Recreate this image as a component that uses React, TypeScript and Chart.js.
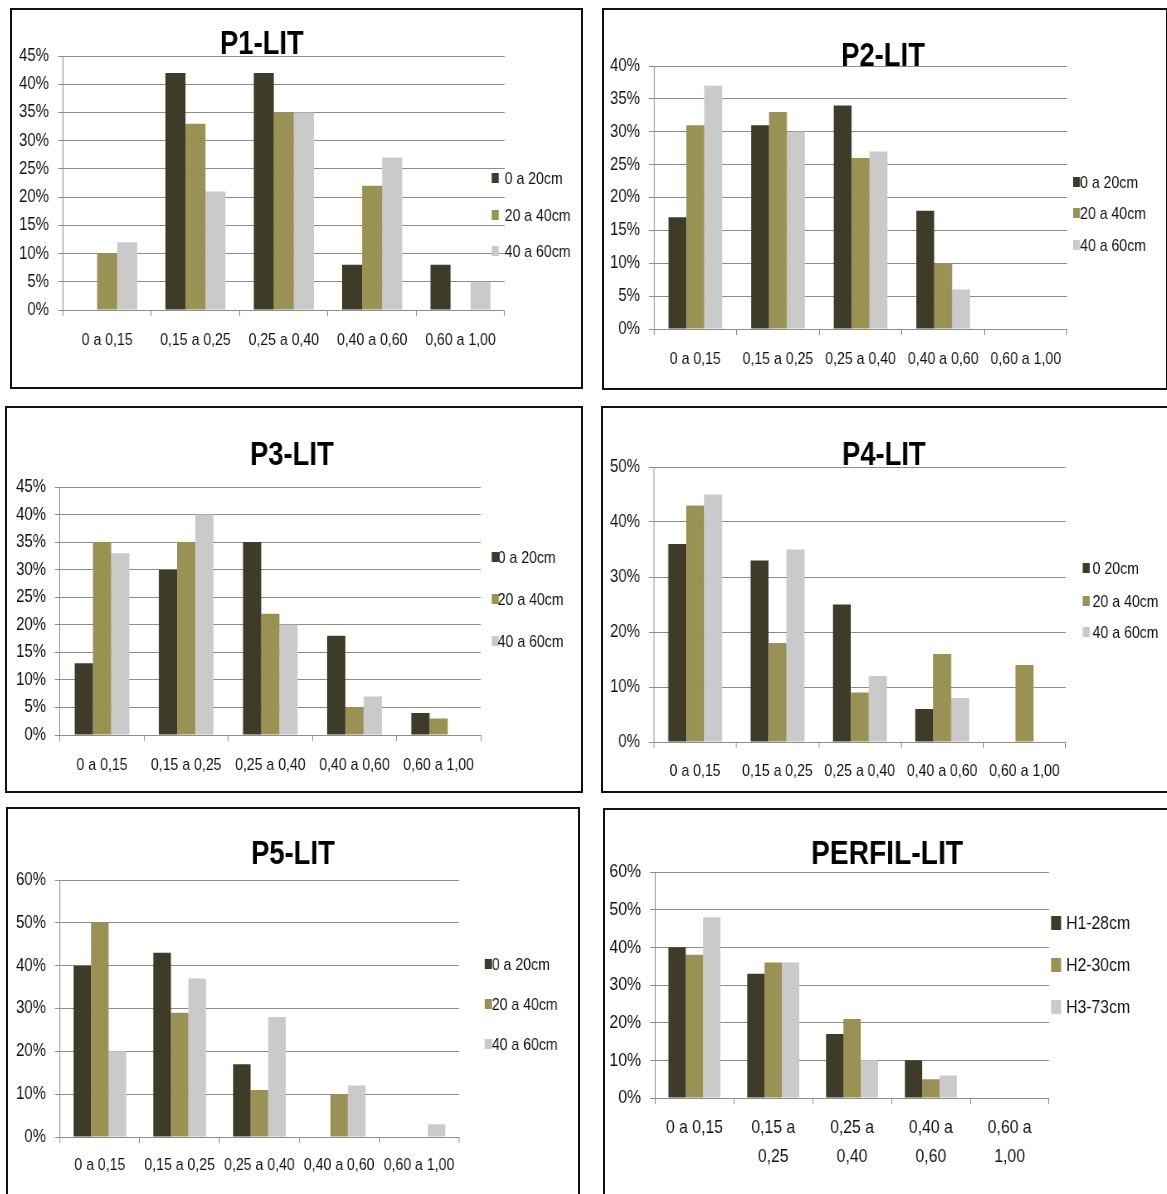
import { useEffect, useRef } from "react";
import { Chart, registerables } from "chart.js";

Chart.register(...registerables);

// ---------- DATA ----------
const categories = ["0 a 0,15", "0,15 a 0,25", "0,25 a 0,40", "0,40 a 0,60", "0,60 a 1,00"];
const perfilCategories = [["0 a 0,15"], ["0,15 a", "0,25"], ["0,25 a", "0,40"], ["0,40 a", "0,60"], ["0,60 a", "1,00"]];

const depthLabels = ["0 a 20cm", "20 a 40cm", "40 a 60cm"];
const p4DepthLabels = ["0 20cm", "20 a 40cm", "40 a 60cm"];
const perfilLabels = ["H1-28cm", "H2-30cm", "H3-73cm"];

const p1_0a20 = [0, 42, 42, 8, 8];
const p1_20a40 = [10, 33, 35, 22, 0];
const p1_40a60 = [12, 21, 35, 27, 5];

const p2_0a20 = [17, 31, 34, 18, 0];
const p2_20a40 = [31, 33, 26, 10, 0];
const p2_40a60 = [37, 30, 27, 6, 0];

const p3_0a20 = [13, 30, 35, 18, 4];
const p3_20a40 = [35, 35, 22, 5, 3];
const p3_40a60 = [33, 40, 20, 7, 0];

const p4_0a20 = [36, 33, 25, 6, 0];
const p4_20a40 = [43, 18, 9, 16, 14];
const p4_40a60 = [45, 35, 12, 8, 0];

const p5_0a20 = [40, 43, 17, 0, 0];
const p5_20a40 = [50, 29, 11, 10, 0];
const p5_40a60 = [20, 37, 28, 12, 3];

const perfilH1 = [40, 33, 17, 10, 0];
const perfilH2 = [38, 36, 21, 5, 0];
const perfilH3 = [48, 36, 10, 6, 0];

const titles = ["P1-LIT", "P2-LIT", "P3-LIT", "P4-LIT", "P5-LIT", "PERFIL-LIT"];
const yMax = [45, 40, 45, 50, 60, 60];
const yStep = [5, 5, 5, 10, 10, 10];

// ---------- STYLE ----------
const COLORS = ["#3e3c28", "#9a9254", "#cacaca"];
const FONT = "'Liberation Sans', Arial, sans-serif";
const GRID = "#8c8c8c";
const TEXT = "#111";
const SX = 0.83; // horizontal condensing of the drawing (narrow-font look)

type Panel = {
  box: { x: number; y: number; w: number; h: number };
  plot: { left: number; right: number; top: number; bottom: number };
  labelCenter: number;
  title: { x: number; y: number };
  legend: { sqX: number; textX: number; ys: number[] };
  fontSize: number;
  yFontSize: number;
  legendSize: number;
  catPct: number;
};

const panels: Panel[] = [
  { box: { x: 10, y: 8, w: 573, h: 381 }, plot: { left: 51, right: 493, top: 46, bottom: 300 }, labelCenter: 330, title: { x: 250, y: 35 }, legend: { sqX: 480, textX: 493, ys: [168, 205, 241] }, fontSize: 17, yFontSize: 18, legendSize: 17, catPct: 0.68 },
  { box: { x: 602, y: 8, w: 566, h: 382 }, plot: { left: 50, right: 463, top: 56, bottom: 319 }, labelCenter: 349, title: { x: 279, y: 47 }, legend: { sqX: 469, textX: 476, ys: [172, 203, 235] }, fontSize: 17, yFontSize: 18, legendSize: 17, catPct: 0.65 },
  { box: { x: 5, y: 406, w: 578, h: 387 }, plot: { left: 53, right: 474, top: 79, bottom: 327 }, labelCenter: 357, title: { x: 285, y: 48 }, legend: { sqX: 485, textX: 491, ys: [149, 191, 233] }, fontSize: 17, yFontSize: 18, legendSize: 17, catPct: 0.65 },
  { box: { x: 601, y: 406, w: 568, h: 387 }, plot: { left: 51, right: 463, top: 59, bottom: 334 }, labelCenter: 363, title: { x: 281, y: 48 }, legend: { sqX: 480, textX: 490, ys: [160, 193, 224] }, fontSize: 17, yFontSize: 18, legendSize: 17, catPct: 0.655 },
  { box: { x: 6, y: 807, w: 574, h: 400 }, plot: { left: 52, right: 451, top: 71, bottom: 328 }, labelCenter: 356, title: { x: 285, y: 46 }, legend: { sqX: 477, textX: 484, ys: [155, 195, 235] }, fontSize: 17, yFontSize: 18, legendSize: 17, catPct: 0.66 },
  { box: { x: 603, y: 808, w: 566, h: 400 }, plot: { left: 50, right: 444, top: 62, bottom: 288 }, labelCenter: 332, title: { x: 282, y: 45 }, legend: { sqX: 446, textX: 461, ys: [113, 155, 197] }, fontSize: 19, yFontSize: 19, legendSize: 19, catPct: 0.66 },
];

const seriesSets = [
  [p1_0a20, p1_20a40, p1_40a60],
  [p2_0a20, p2_20a40, p2_40a60],
  [p3_0a20, p3_20a40, p3_40a60],
  [p4_0a20, p4_20a40, p4_40a60],
  [p5_0a20, p5_20a40, p5_40a60],
  [perfilH1, perfilH2, perfilH3],
];
const legendSets = [depthLabels, depthLabels, depthLabels, p4DepthLabels, depthLabels, perfilLabels];

const TICK_LEN = 6;

function ChartPanel({ idx }: { idx: number }) {
  const ref = useRef<HTMLCanvasElement | null>(null);
  const p = panels[idx];
  const W = p.box.w - 4;
  const H = p.box.h - 4;
  const Wc = Math.round(W / SX);
  const isPerfil = idx === 5;

  useEffect(() => {
    if (!ref.current) return;
    const labels = isPerfil ? perfilCategories : categories;
    const lineH = isPerfil ? 29 : Math.round(p.fontSize * 1.2);
    const nLines = isPerfil ? 2 : 1;
    const xH = 70;
    const xPad = p.labelCenter - p.plot.bottom - TICK_LEN - (lineH * nLines) / 2;
    const cx = (v: number) => v / SX;

    const decor = {
      id: "panelDecor",
      afterDraw(chart: any) {
        const ctx = chart.ctx;
        ctx.save();
        ctx.fillStyle = "#000";
        ctx.font = `bold ${isPerfil ? 34 : 33}px ${FONT}`;
        ctx.textAlign = "center";
        ctx.textBaseline = "middle";
        ctx.fillText(titles[idx], cx(p.title.x), p.title.y);
        ctx.font = `${p.legendSize}px ${FONT}`;
        ctx.textAlign = "left";
        chart.data.datasets.forEach((ds: any, i: number) => {
          const y = p.legend.ys[i];
          ctx.fillStyle = ds.backgroundColor;
          const sw = isPerfil ? 10 : 7;
          const sh = isPerfil ? 14 : 10;
          ctx.fillRect(cx(p.legend.sqX), y - sh / 2, cx(sw), sh);
          ctx.fillStyle = TEXT;
          ctx.fillText(ds.label, cx(p.legend.textX), y + 1);
        });
        ctx.restore();
      },
    };

    const chart = new Chart(ref.current, {
      type: "bar",
      data: {
        labels: labels as any,
        datasets: seriesSets[idx].map((vals, i) => ({
          label: legendSets[idx][i],
          data: vals,
          backgroundColor: COLORS[i],
          borderWidth: 0,
          categoryPercentage: p.catPct,
          barPercentage: 1.0,
        })),
      },
      options: {
        responsive: false,
        animation: false,
        devicePixelRatio: 1,
        layout: {
          padding: {
            left: 0,
            top: p.plot.top,
            right: Wc - cx(p.plot.right),
            bottom: H - p.plot.bottom - xH,
          },
        },
        plugins: {
          legend: { display: false },
          title: { display: false },
          tooltip: { enabled: false },
        },
        scales: {
          x: {
            afterFit: (s: any) => {
              s.height = xH;
            },
            grid: {
              offset: true,
              drawOnChartArea: false,
              drawTicks: true,
              tickLength: TICK_LEN,
              color: GRID,
            },
            border: { display: true, color: GRID },
            ticks: {
              autoSkip: false,
              maxRotation: 0,
              minRotation: 0,
              padding: xPad,
              color: TEXT,
              font: { family: FONT, size: p.fontSize, lineHeight: isPerfil ? 29 / p.fontSize : 1.2 },
            },
          },
          y: {
            min: 0,
            max: yMax[idx],
            afterFit: (s: any) => {
              s.width = cx(p.plot.left);
            },
            grid: {
              color: GRID,
              drawTicks: true,
              tickLength: cx(5),
            },
            border: { display: true, color: GRID },
            ticks: {
              stepSize: yStep[idx],
              padding: cx(9),
              color: TEXT,
              font: { family: FONT, size: p.yFontSize },
              callback: (v: any) => `${v}%`,
            },
          },
        },
      },
      plugins: [decor],
    });
    return () => chart.destroy();
  }, [idx]);

  return (
    <div
      style={{
        position: "absolute",
        left: p.box.x,
        top: p.box.y,
        width: p.box.w,
        height: p.box.h,
        boxSizing: "border-box",
        border: "2px solid #111",
        background: "#fff",
      }}
    >
      <canvas ref={ref} width={Wc} height={H} style={{ display: "block", width: W, height: H }} />
    </div>
  );
}

export default function App() {
  return (
    <div
      style={{
        position: "absolute",
        left: 0,
        top: 0,
        width: 1167,
        height: 1194,
        overflow: "hidden",
        background: "#fff",
      }}
    >
      {panels.map((_, i) => (
        <ChartPanel key={i} idx={i} />
      ))}
    </div>
  );
}
